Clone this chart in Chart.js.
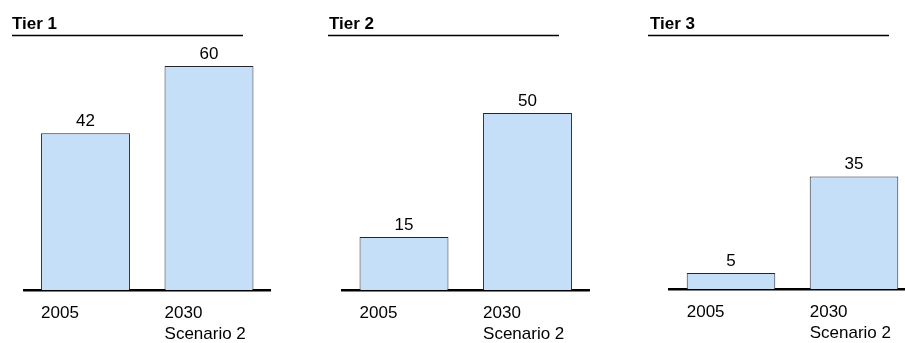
<!DOCTYPE html>
<html>
<head>
<meta charset="utf-8">
<script src="https://cdn.jsdelivr.net/npm/chart.js@4"></script>
<style>
  html, body { margin:0; padding:0; background:#fff; overflow:hidden; }
  #wrap { position:relative; width:905px; height:343px; overflow:hidden; }
  canvas { position:absolute; top:0; }
</style>
</head>
<body>
<div id="wrap"></div>
<script>
// data
const tiers = ["Tier 1", "Tier 2", "Tier 3"]
const categories = [["2005"], ["2030", "Scenario 2"]]
const values2005 = [42, 15, 5]
const values2030 = [60, 50, 35]

// panel layout (canvas left, width, padding, title x, underline, y max)
const panels = [
  { left:0,   width:300, padL:23.75, padR:29.25, padB:53, titleX:12, lineX1:12, lineX2:243, yMax:67 },
  { left:300, width:300, padL:42.25, padR:10.75, padB:53, titleX:29, lineX1:28, lineX2:259, yMax:70.6 },
  { left:600, width:320, padL:69.5,  padR:4.5,   padB:54, titleX:50, lineX1:48, lineX2:289, yMax:77.4 }
]

const FONT = "'Liberation Sans', Arial, sans-serif"

const panelDecor = {
  id:"panelDecor",
  afterDraw(chart, args, opts){
    const ctx = chart.ctx
    ctx.save()
    // title + underline
    ctx.fillStyle = "#000"
    ctx.font = "bold 17px " + FONT
    ctx.textAlign = "left"
    ctx.textBaseline = "alphabetic"
    ctx.fillText(opts.title, opts.titleX, 29)
    ctx.strokeStyle = "#000"
    ctx.lineWidth = 1.3
    ctx.beginPath()
    ctx.moveTo(opts.lineX1, 35.5)
    ctx.lineTo(opts.lineX2, 35.5)
    ctx.stroke()

    const meta = chart.getDatasetMeta(0)
    const data = chart.data.datasets[0].data
    meta.data.forEach((bar, i) => {
      // value label
      ctx.font = "17px " + FONT
      ctx.textAlign = "center"
      ctx.fillText(String(data[i]), bar.x, bar.y - 7)
      // category label (left aligned with bar)
      const lines = chart.data.labels[i]
      ctx.textAlign = "left"
      const x0 = bar.x - bar.width / 2
      lines.forEach((t, k) => {
        ctx.fillText(t, x0, chart.chartArea.bottom + 28 + k * 21)
      })
    })
    ctx.restore()
  }
}

const wrap = document.getElementById("wrap")

tiers.forEach((tier, i) => {
  const p = panels[i]
  const cv = document.createElement("canvas")
  cv.style.left = p.left + "px"
  cv.style.width = p.width + "px"
  cv.style.height = "343px"
  cv.width = p.width
  cv.height = 343
  wrap.appendChild(cv)

  new Chart(cv, {
    type:"bar",
    data:{
      labels:categories,
      datasets:[{
        data:[values2005[i], values2030[i]],
        backgroundColor:"#c6dff9",
        borderColor:"#262626",
        borderWidth:1,
        barPercentage:0.72,
        categoryPercentage:1
      }]
    },
    options:{
      responsive:false,
      animation:false,
      devicePixelRatio:1,
      layout:{ padding:{ left:p.padL, right:p.padR, top:40, bottom:p.padB } },
      plugins:{
        legend:{ display:false },
        tooltip:{ enabled:false },
        panelDecor:{ title:tier, titleX:p.titleX, lineX1:p.lineX1, lineX2:p.lineX2 }
      },
      scales:{
        x:{
          grid:{ display:false, drawTicks:false },
          ticks:{ display:false },
          border:{ display:true, color:"#000", width:2.5 }
        },
        y:{
          display:false,
          min:0,
          max:p.yMax
        }
      }
    },
    plugins:[panelDecor]
  })
})
</script>
</body>
</html>
